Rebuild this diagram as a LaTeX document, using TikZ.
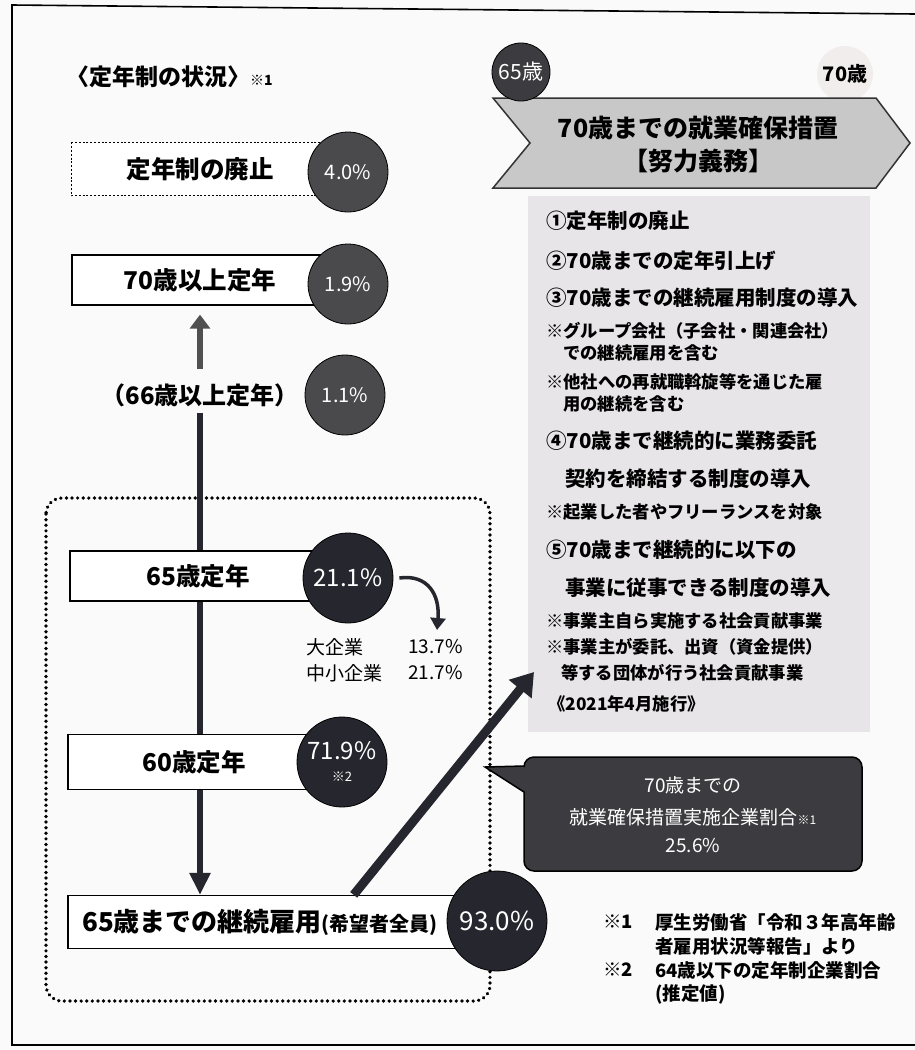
\documentclass[tikz,border=0pt]{standalone}
\usepackage{fontspec}
\newfontfamily\jp{Noto Sans CJK JP}
\usetikzlibrary{arrows.meta,calc,backgrounds}
\definecolor{paper}{HTML}{FBFAFA}
\definecolor{lightcirc}{HTML}{4A4A4C}
\definecolor{darkcirc}{HTML}{26262E}
\definecolor{chev}{HTML}{C8C8C8}
\definecolor{panelc}{HTML}{E7E5E7}
\definecolor{callc}{HTML}{3C3C40}
\definecolor{shaft}{HTML}{505050}
\definecolor{faint}{HTML}{F1EDED}
\tikzset{
  lbox/.style={draw=black, line width=1.3pt, fill=white, inner sep=0pt, minimum height=50pt,
    font=\jp\bfseries\fontsize{24.5}{28}\selectfont},
  pcirc/.style={circle, fill=lightcirc, draw=black, line width=0.8pt, minimum size=80pt, inner sep=0pt,
    text=white, font=\jp\fontsize{20}{24}\selectfont},
  dcirc/.style={circle, fill=darkcirc, draw=black, line width=0.8pt, minimum size=90pt, inner sep=0pt,
    text=white, font=\jp\fontsize{24}{28}\selectfont},
  item/.style={anchor=west, inner sep=0pt, font=\jp\bfseries\fontsize{20.5}{24}\selectfont},
  note/.style={anchor=west, inner sep=0pt, font=\jp\bfseries\fontsize{17.3}{20}\selectfont},
  foot/.style={anchor=west, inner sep=0pt, font=\jp\bfseries\fontsize{18.5}{22}\selectfont},
  small/.style={inner sep=0pt, font=\jp\fontsize{19}{22}\selectfont},
  callt/.style={inner sep=0pt, text=white, font=\jp\fontsize{19}{22}\selectfont},
}
\begin{document}
\begin{tikzpicture}[x=1pt,y=-1pt]
\useasboundingbox (0,0) rectangle (915,1050);

% title
\node[anchor=west, inner sep=0pt, font=\jp\bfseries\fontsize{23}{26}\selectfont] (title) at (66,77)
  {〈定年制の状況〉\fontsize{14}{16}\selectfont ※1};

% left column boxes
\node[lbox, draw=none, minimum width=256pt, minimum height=52pt] (b1) at (200,169) {定年制の廃止};
\draw[line width=1.3pt, dash pattern=on 2pt off 1.8pt] (b1.north west) rectangle (b1.south east);
\node[lbox, minimum width=256pt] (b2) at (200,280) {70歳以上定年};
\node[inner sep=2pt, font=\jp\bfseries\fontsize{24}{28}\selectfont] (t66) at (200,395) {（66歳以上定年）};
\node[lbox, minimum width=256pt] (b3) at (198,576) {65歳定年};
\node[lbox, minimum width=252pt, minimum height=55pt] (b4) at (194,762) {60歳定年};
\node[lbox, minimum width=402pt, minimum height=53pt, font=\jp\bfseries\fontsize{26}{30}\selectfont] (b5) at (269,922)
  {65歳までの継続雇用\fontsize{20}{24}\selectfont (希望者全員)\hspace*{18pt}};

% circles
\node[pcirc] (c1) at (348,172) {4.0\%};
\node[pcirc] (c2) at (348,284) {1.9\%};
\node[pcirc] (c3) at (345,395) {1.1\%};
\node[dcirc] (c4) at (348,578) {21.1\%};
\node[dcirc, align=center] (c5) at (342,762) {71.9\%\\[-6pt]{\fontsize{13}{15}\selectfont ※2}};
\node[dcirc, minimum size=100pt, font=\jp\fontsize{26}{30}\selectfont] (c6) at (497,921) {93.0\%};

% breakdown
\node[small, anchor=west] (lg) at (306,647) {大企業};
\node[small, anchor=east] (lgv) at (463,647) {13.7\%};
\node[small, anchor=west] (sm) at (306,673) {中小企業};
\node[small, anchor=east] (smv) at (463,673) {21.7\%};
\coordinate (curveEnd) at (437,630);
\draw[line width=3.5pt, darkcirc, -{Triangle[width=15pt,length=12pt]}]
  ([xshift=6pt]c4.east) .. controls (428,574) and (440,595) .. (curveEnd);

% background items
\begin{scope}[on background layer]
  \fill[paper] (0,0) rectangle (915,1050);
  \draw[line width=1.6pt] (915,14) -- (12,5) -- (12,1045) -- (915,1045);
  \node[fill=panelc, minimum width=342pt, minimum height=536pt, inner sep=0pt] (panel) at (699,464) {};
  \draw[line width=3.6pt, dash pattern=on 0.1pt off 5.5pt, line cap=round, rounded corners=16pt]
    (46,498) rectangle (490,1001);
  \draw[line width=6pt, darkcirc, -{Triangle[width=20pt,length=22pt]}]
    ([yshift=-4pt]t66.south) -- (t66.south |- b5.north);
\end{scope}
\draw[line width=6pt, shaft, -{Triangle[width=20pt,length=14pt]}]
  ([yshift=12pt]t66.north) -- ([yshift=-9pt]b2.south);

% diagonal arrow
\coordinate (tipA) at (534,672);
\draw[line width=9pt, darkcirc, -{Triangle[width=28pt,length=22pt]}]
  ($(b5.north west)!0.71!(b5.north east)$) -- (tipA);

% top right: age markers and chevron
\node[circle, fill=faint, minimum size=56pt, inner sep=0pt, font=\jp\bfseries\fontsize{20}{24}\selectfont] (a70) at (845,74) {70歳};
\filldraw[fill=chev, draw=black!80, line width=1.5pt]
  (493,98) -- (876,98) -- (910,143) -- (876,188) -- (493,188) -- (530,143) -- cycle;
\node[circle, fill=callc, draw=black, line width=0.8pt, minimum size=58pt, inner sep=0pt, text=white,
  font=\jp\fontsize{21}{24}\selectfont] (a65) at (521,72) {65歳};
\node[inner sep=0pt, font=\jp\bfseries\fontsize{25}{28}\selectfont] (ch1) at (698,128) {70歳までの就業確保措置};
\node[inner sep=0pt, font=\jp\bfseries\fontsize{25}{28}\selectfont] (ch2) at (698,161) {【努力義務】};

% panel text
\node[item] (i1) at (546,221) {①定年制の廃止};
\node[item] (i2) at (546,261) {②70歳までの定年引上げ};
\node[item] (i3) at (546,298) {③70歳までの継続雇用制度の導入};
\node[note] (n1) at (546,331) {※グループ会社（子会社・関連会社）};
\node[note] (n2) at (563,353) {での継続雇用を含む};
\node[note] (n3) at (546,382) {※他社への再就職斡旋等を通じた雇};
\node[note] (n4) at (563,404) {用の継続を含む};
\node[item] (i4) at (546,441) {④70歳まで継続的に業務委託};
\node[item] (i4b) at (565,479) {契約を締結する制度の導入};
\node[note] (n5) at (546,512) {※起業した者やフリーランスを対象};
\node[item] (i5) at (546,550) {⑤70歳まで継続的に以下の};
\node[item] (i5b) at (565,588) {事業に従事できる制度の導入};
\node[note] (n6) at (546,621) {※事業主自ら実施する社会貢献事業};
\node[note] (n7) at (546,647) {※事業主が委託、出資（資金提供）};
\node[note] (n8) at (561,673) {等する団体が行う社会貢献事業};
\node[note] (n9) at (548,704) {《2021年4月施行》};

% callout
\filldraw[fill=callc, draw=black, line width=1.5pt]
  (524,792) -- (485,767) -- (524,766) [rounded corners=10pt] -- (524,757) -- (862,757) -- (862,871)
  -- (524,871) [sharp corners] -- cycle;
\node[callt] (k1) at (693,785) {70歳までの};
\node[callt] (k2) at (693,817) {就業確保措置実施企業割合\fontsize{12}{14}\selectfont ※1};
\node[callt] (k3) at (693,846) {25.6\%};

% footnotes
\node[foot] (f1) at (603,922) {※1};
\node[foot] (f1a) at (655,922) {厚生労働省「令和３年高年齢};
\node[foot] (f1b) at (655,946) {者雇用状況等報告」より};
\node[foot] (f2) at (603,970) {※2};
\node[foot] (f2a) at (655,970) {64歳以下の定年制企業割合};
\node[foot] (f2b) at (655,994) {(推定値)};
\end{tikzpicture}
\end{document}
